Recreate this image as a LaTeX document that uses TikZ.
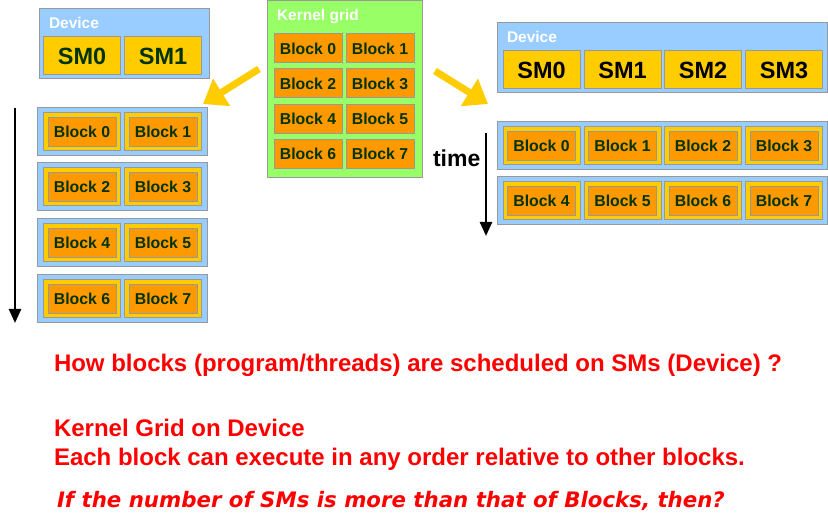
\documentclass[tikz,border=0pt]{standalone}
\usepackage{fontspec}
\setmainfont{Liberation Sans}
\newfontfamily\verdfont{DejaVu Sans}
\usetikzlibrary{positioning, arrows.meta}

\definecolor{devblue}{HTML}{99CCFF}
\definecolor{smyellow}{HTML}{FFCC00}
\definecolor{blkorange}{HTML}{FF9900}
\definecolor{gridgreen}{HTML}{99FF66}
\definecolor{edgegray}{HTML}{999999}
\definecolor{labelgreen}{HTML}{003300}

\begin{document}
\begin{tikzpicture}[
  x=1pt, y=-1pt,
  font=\bfseries,
  every node/.style={inner sep=0pt, outer sep=0pt},
  panel/.style={
    draw=edgegray, line width=1pt, rectangle, fill=devblue,
  },
  smbox/.style={
    draw=edgegray, line width=1pt, rectangle, fill=smyellow,
    minimum width=77pt, minimum height=38pt,
    font=\fontsize{23.5}{23.5}\selectfont\bfseries,
  },
  slot/.style={
    draw=edgegray, line width=1pt, rectangle, fill=smyellow,
    minimum width=77pt, minimum height=38pt,
  },
  blk/.style={
    draw=edgegray, line width=1pt, rectangle, fill=blkorange,
    minimum width=68pt, minimum height=29pt, text=labelgreen,
    font=\fontsize{15.8}{15.8}\selectfont\bfseries,
  },
  title/.style={
    text=white, anchor=base west, font=\fontsize{15.5}{15.5}\selectfont\bfseries,
  },
  note/.style={
    text=red, anchor=base west, font=\fontsize{24}{24}\selectfont\bfseries,
  },
  fanarr/.style={-{Triangle[length=22pt,width=31pt]}, line width=7pt, draw=smyellow},
  timearr/.style={-{Triangle[length=14pt,width=12pt]}, line width=2.4pt},
]
\useasboundingbox (0,0) rectangle (828,529);

% ── Column / row positions ─────────────────────────────────────────
\def\cLa{82}
\def\cLb{163}
\def\rLa{132}
\def\rLb{187}
\def\rLc{243}
\def\rLd{299}

\def\cGa{308}
\def\cGb{380}

\def\cRa{541.5}
\def\cRb{622.5}
\def\cRc{703}
\def\cRd{784}
\def\rRa{146}
\def\rRb{201}

% ── Left device: two SMs ───────────────────────────────────────────
\node[panel, minimum width=170pt, minimum height=70pt] (devL) at (124,44) {};
\node[title] (devLt) at (49,29) {Device};
\node[smbox, text=labelgreen] (smL0) at (\cLa,56) {SM0};
\node[smbox, text=labelgreen] (smL1) at (\cLb,56) {SM1};

% ── Left schedule: four waves of two blocks ────────────────────────
\node[panel, minimum width=170pt, minimum height=48pt] (rowL0) at (122,\rLa) {};
\node[panel, minimum width=170pt, minimum height=48pt] (rowL1) at (122,\rLb) {};
\node[panel, minimum width=170pt, minimum height=48pt] (rowL2) at (122,\rLc) {};
\node[panel, minimum width=170pt, minimum height=48pt] (rowL3) at (122,\rLd) {};

\node[slot] (slotL0) at (\cLa,\rLa) {};
\node[slot] (slotL1) at (\cLb,\rLa) {};
\node[slot] (slotL2) at (\cLa,\rLb) {};
\node[slot] (slotL3) at (\cLb,\rLb) {};
\node[slot] (slotL4) at (\cLa,\rLc) {};
\node[slot] (slotL5) at (\cLb,\rLc) {};
\node[slot] (slotL6) at (\cLa,\rLd) {};
\node[slot] (slotL7) at (\cLb,\rLd) {};

\node[blk] (blkL0) at (slotL0) {Block 0};
\node[blk] (blkL1) at (slotL1) {Block 1};
\node[blk] (blkL2) at (slotL2) {Block 2};
\node[blk] (blkL3) at (slotL3) {Block 3};
\node[blk] (blkL4) at (slotL4) {Block 4};
\node[blk] (blkL5) at (slotL5) {Block 5};
\node[blk] (blkL6) at (slotL6) {Block 6};
\node[blk] (blkL7) at (slotL7) {Block 7};

\coordinate (timeLtop) at (15,108);
\coordinate (timeLbot) at (15,323);
\draw[timearr] (timeLtop) -- (timeLbot);

% ── Kernel grid ────────────────────────────────────────────────────
\node[panel, fill=gridgreen, minimum width=155pt, minimum height=177pt] (kgrid) at (344.5,89.5) {};
\node[title] (kgridt) at (277,21) {Kernel grid};
\node[blk] (blkG0) at (\cGa,48.5) {Block 0};
\node[blk] (blkG1) at (\cGb,48.5) {Block 1};
\node[blk] (blkG2) at (\cGa,83.5) {Block 2};
\node[blk] (blkG3) at (\cGb,83.5) {Block 3};
\node[blk] (blkG4) at (\cGa,119) {Block 4};
\node[blk] (blkG5) at (\cGb,119) {Block 5};
\node[blk] (blkG6) at (\cGa,154) {Block 6};
\node[blk] (blkG7) at (\cGb,154) {Block 7};

% ── Fan-out arrows from the grid ───────────────────────────────────
\coordinate (fanLa) at (259,69);
\coordinate (fanLb) at (203,104);
\coordinate (fanRa) at (435,71);
\coordinate (fanRb) at (488,104);
\draw[fanarr] (fanLa) -- (fanLb);
\draw[fanarr] (fanRa) -- (fanRb);

% ── Right device: four SMs ─────────────────────────────────────────
\node[panel, minimum width=330pt, minimum height=70pt] (devR) at (662,58) {};
\node[title] (devRt) at (507,43) {Device};
\node[smbox, text=black] (smR0) at (\cRa,70) {SM0};
\node[smbox, text=black] (smR1) at (\cRb,70) {SM1};
\node[smbox, text=black] (smR2) at (\cRc,70) {SM2};
\node[smbox, text=black] (smR3) at (\cRd,70) {SM3};

% ── Right schedule: two waves of four blocks ───────────────────────
\node[panel, minimum width=330pt, minimum height=48pt] (rowR0) at (662,\rRa) {};
\node[panel, minimum width=330pt, minimum height=48pt] (rowR1) at (662,\rRb) {};

\node[slot] (slotR0) at (\cRa,\rRa) {};
\node[slot] (slotR1) at (\cRb,\rRa) {};
\node[slot] (slotR2) at (\cRc,\rRa) {};
\node[slot] (slotR3) at (\cRd,\rRa) {};
\node[slot] (slotR4) at (\cRa,\rRb) {};
\node[slot] (slotR5) at (\cRb,\rRb) {};
\node[slot] (slotR6) at (\cRc,\rRb) {};
\node[slot] (slotR7) at (\cRd,\rRb) {};

\node[blk] (blkR0) at (slotR0) {Block 0};
\node[blk] (blkR1) at (slotR1) {Block 1};
\node[blk] (blkR2) at (slotR2) {Block 2};
\node[blk] (blkR3) at (slotR3) {Block 3};
\node[blk] (blkR4) at (slotR4) {Block 4};
\node[blk] (blkR5) at (slotR5) {Block 5};
\node[blk] (blkR6) at (slotR6) {Block 6};
\node[blk] (blkR7) at (slotR7) {Block 7};

\node[anchor=base west, font=\fontsize{23}{23}\selectfont\bfseries] (timeR) at (433,167) {time};
\coordinate (timeRtop) at (486,133);
\coordinate (timeRbot) at (486,236);
\draw[timearr] (timeRtop) -- (timeRbot);

% ── Questions ──────────────────────────────────────────────────────
\node[note] (q1) at (54,372) {How blocks (program/threads) are scheduled on SMs (Device) ?};
\node[note] (q2) at (54,437) {Kernel Grid on Device};
\node[note] (q3) at (54,465) {Each block can execute in any order relative to other blocks.};
\node[note, font=\verdfont\fontsize{21.3}{21.3}\selectfont\bfseries\itshape] (q4) at (57,507)
  {If the number of SMs is more than that of Blocks, then?};

\end{tikzpicture}
\end{document}
